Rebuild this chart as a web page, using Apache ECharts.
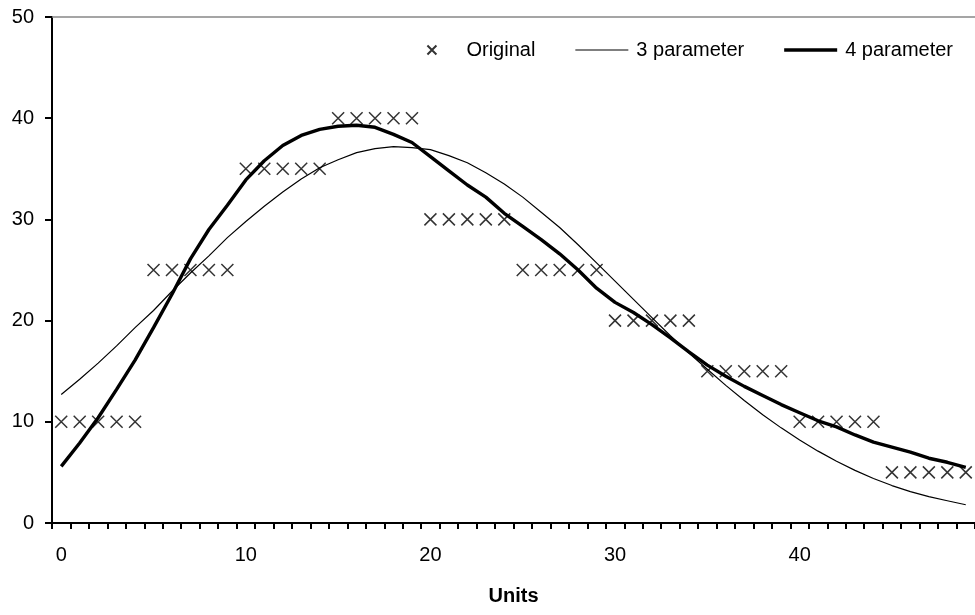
<!DOCTYPE html>
<html>
<head>
<meta charset="utf-8">
<script src="https://cdn.jsdelivr.net/npm/echarts@6/dist/echarts.min.js"></script>
<style>
html,body{margin:0;padding:0;background:#fff;}
#c{width:975px;height:615px;}
</style>
</head>
<body>
<div id="c"></div>
<script>
var units = ['0','1','2','3','4','5','6','7','8','9','10','11','12','13','14','15','16','17','18','19','20','21','22','23','24','25','26','27','28','29','30','31','32','33','34','35','36','37','38','39','40','41','42','43','44','45','46','47','48','49'];
var original = [10,10,10,10,10,25,25,25,25,25,35,35,35,35,35,40,40,40,40,40,30,30,30,30,30,25,25,25,25,25,20,20,20,20,20,15,15,15,15,15,10,10,10,10,10,5,5,5,5,5];
var threeParam = [12.7,14.2,15.8,17.5,19.3,21.0,22.9,24.7,26.4,28.2,29.8,31.3,32.7,34.0,35.1,35.9,36.6,37.0,37.2,37.1,36.9,36.3,35.6,34.6,33.5,32.2,30.7,29.2,27.5,25.7,23.9,22.1,20.3,18.5,16.8,15.2,13.6,12.1,10.7,9.4,8.2,7.1,6.1,5.2,4.4,3.7,3.1,2.6,2.2,1.8];
var fourParam = [5.6,7.9,10.4,13.2,16.1,19.3,22.6,26.1,29.0,31.4,33.9,35.8,37.3,38.3,38.9,39.2,39.3,39.1,38.4,37.6,36.2,34.8,33.4,32.2,30.6,29.3,28.0,26.6,25.0,23.2,21.8,20.8,19.6,18.3,16.9,15.6,14.5,13.5,12.6,11.7,10.9,10.1,9.5,8.7,8.0,7.5,7.0,6.4,6.0,5.5];
var yTicks = {min: 0, max: 50, interval: 10};

var FONT = '"Liberation Sans", Arial, sans-serif';
var chart = echarts.init(document.getElementById('c'), null, {renderer: 'canvas'});
chart.setOption({
  animation: false,
  backgroundColor: '#ffffff',
  textStyle: {fontFamily: FONT, color: '#000'},
  grid: {left: 52, top: 17, width: 926, height: 506, containLabel: false},
  legend: {
    right: 17, top: 35,
    itemWidth: 53, itemHeight: 9, itemGap: 40,
    symbolKeepAspect: true,
    textStyle: {fontFamily: FONT, fontSize: 20, color: '#000', padding: [0, 0, 0, 3]},
    data: [
      {name: 'Original'},
      {name: '3 parameter', icon: 'path://M0,0H53V1.2H0Z', itemStyle: {color: '#000', borderWidth: 0}},
      {name: '4 parameter', icon: 'path://M0,0H53V3.4H0Z', itemStyle: {color: '#000', borderWidth: 0}}
    ]
  },
  xAxis: [{
    type: 'category',
    data: units,
    boundaryGap: true,
    name: 'Units',
    nameLocation: 'middle',
    nameGap: 63,
    nameTextStyle: {fontFamily: FONT, fontSize: 20, fontWeight: 'bold', color: '#000'},
    axisLine: {lineStyle: {color: '#000', width: 2}},
    axisTick: {show: true, interval: 0, length: 6, lineStyle: {color: '#000', width: 2}},
    axisLabel: {interval: 9, margin: 22, fontFamily: FONT, fontSize: 20, color: '#000'},
    splitLine: {show: false}
  }, {
    type: 'category',
    data: units,
    position: 'top',
    axisLine: {lineStyle: {color: '#888', width: 1.5}},
    axisTick: {show: false},
    axisLabel: {show: false},
    splitLine: {show: false}
  }],
  yAxis: {
    type: 'value',
    min: yTicks.min, max: yTicks.max, interval: yTicks.interval,
    axisLine: {show: true, lineStyle: {color: '#000', width: 2}},
    axisTick: {show: true, length: 7, lineStyle: {color: '#000', width: 2}},
    axisLabel: {margin: 18, fontFamily: FONT, fontSize: 20, color: '#000'},
    splitLine: {show: false}
  },
  series: [{
    name: 'Original',
    type: 'scatter',
    data: original,
    symbol: 'path://M0,0L10,10M10,0L0,10',
    symbolSize: 12,
    itemStyle: {color: 'rgba(0,0,0,0)', borderColor: '#000', borderWidth: 1.5},
    z: 3
  }, {
    name: '3 parameter',
    type: 'line',
    data: threeParam,
    showSymbol: false,
    symbol: 'none',
    lineStyle: {color: '#000', width: 1.2},
    itemStyle: {color: '#000'},
    z: 2
  }, {
    name: '4 parameter',
    type: 'line',
    data: fourParam,
    showSymbol: false,
    symbol: 'none',
    lineStyle: {color: '#000', width: 3.4},
    itemStyle: {color: '#000'},
    z: 2
  }]
});
</script>
</body>
</html>
